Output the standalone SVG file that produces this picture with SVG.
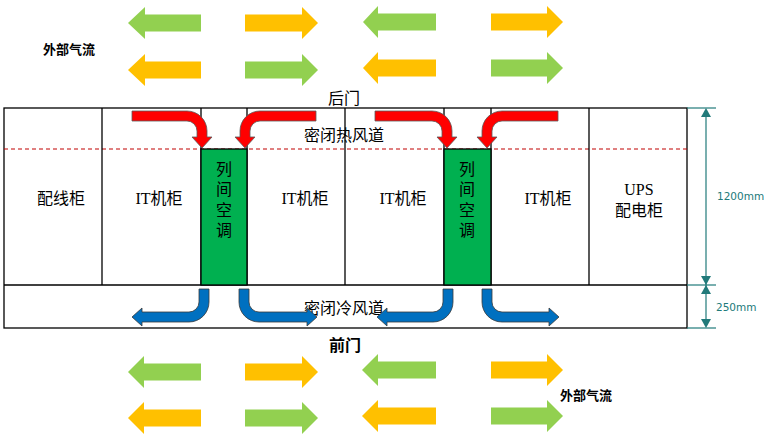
<svg xmlns="http://www.w3.org/2000/svg" width="767" height="436" viewBox="0 0 767 436">
<defs>
<style>
.box{fill:none;stroke:#000;stroke-width:1.3}
.ln{stroke:#000;stroke-width:1.3}
.dash{stroke:#C00000;stroke-width:1;stroke-dasharray:4 3}
.ac{fill:#00B050;stroke:#000;stroke-width:1.3}
.g{fill:#92D050}
.o{fill:#FFC000}
.red{fill:#FF0000;stroke:#5a5a5a;stroke-width:0.8}
.blue{fill:#0070C0;stroke:#3a3a3a;stroke-width:0.8}
.t{font-family:"Liberation Serif","Noto Sans CJK SC",serif;font-size:16px;fill:#000}
.tc{font-family:"Noto Sans CJK SC",sans-serif;font-size:16px;fill:#000}
.vt{font-family:"Noto Sans CJK SC",sans-serif;font-size:16px;fill:#000;writing-mode:vertical-rl;letter-spacing:4.3px}
.ext{font-family:"Noto Sans CJK SC",sans-serif;font-size:13px;font-weight:bold;fill:#000}
.dim{stroke:#217A7A;stroke-width:1.2;fill:none}
.dh{fill:#217A7A}
.dt{font-family:"DejaVu Sans","Liberation Sans",sans-serif;font-size:10.5px;fill:#217A7A}
</style>
</defs>

<g id="outside-airflow">
<polygon class="g" points="128,23 145,7 145,14.5 201,14.5 201,31.5 145,31.5 145,39"/>
<polygon class="o" points="318,23 302,7 302,14.5 245,14.5 245,31.5 302,31.5 302,39"/>
<polygon class="o" points="128,70 145,54 145,61.5 201,61.5 201,78.5 145,78.5 145,86"/>
<polygon class="g" points="318,70 302,54 302,61.5 245,61.5 245,78.5 302,78.5 302,86"/>
<polygon class="g" points="363,22 378,6 378,13.5 436,13.5 436,30.5 378,30.5 378,38"/>
<polygon class="o" points="563,22 547,6 547,13.5 491,13.5 491,30.5 547,30.5 547,38"/>
<polygon class="o" points="363,68 378,52 378,59.5 436,59.5 436,76.5 378,76.5 378,84"/>
<polygon class="g" points="563,68 547,52 547,59.5 491,59.5 491,76.5 547,76.5 547,84"/>

<polygon class="g" points="128,372 144,356 144,363.5 201,363.5 201,380.5 144,380.5 144,388"/>
<polygon class="o" points="318,372 302,356 302,363.5 245,363.5 245,380.5 302,380.5 302,388"/>
<polygon class="o" points="128,418 144,402 144,409.5 201,409.5 201,426.5 144,426.5 144,434"/>
<polygon class="g" points="318,418 302,402 302,409.5 245,409.5 245,426.5 302,426.5 302,434"/>
<polygon class="g" points="362,370 378,354 378,361.5 436,361.5 436,378.5 378,378.5 378,386"/>
<polygon class="o" points="563,370 547,354 547,361.5 491,361.5 491,378.5 547,378.5 547,386"/>
<polygon class="o" points="362,416 378,400 378,407.5 436,407.5 436,424.5 378,424.5 378,432"/>
<polygon class="g" points="563,416 547,400 547,407.5 491,407.5 491,424.5 547,424.5 547,432"/>
<text class="ext" x="43" y="54">外部气流</text>
<text class="ext" x="560" y="400">外部气流</text>
</g>

<g id="frame">
<rect class="box" x="4" y="108" width="683" height="220"/>
<line class="ln" x1="4" y1="285" x2="687" y2="285"/>
<line class="dash" x1="4" y1="149" x2="687" y2="149"/>
<line class="ln" x1="102" y1="108" x2="102" y2="285"/>
<line class="ln" x1="201" y1="108" x2="201" y2="285"/>
<line class="ln" x1="247" y1="108" x2="247" y2="285"/>
<line class="ln" x1="345" y1="108" x2="345" y2="285"/>
<line class="ln" x1="444" y1="108" x2="444" y2="285"/>
<line class="ln" x1="491" y1="108" x2="491" y2="285"/>
<line class="ln" x1="589" y1="108" x2="589" y2="285"/>
<text class="tc" x="344" y="104" text-anchor="middle">后门</text>
<text class="tc" x="345" y="351" text-anchor="middle" font-weight="bold">前门</text>
<text class="tc" x="304" y="141">密闭热风道</text>
<text class="tc" x="304" y="314">密闭冷风道</text>
</g>

<g id="cab-wiring"><text class="t" x="61" y="204" text-anchor="middle">配线柜</text></g>
<g id="cab-it1"><text class="t" x="159" y="204" text-anchor="middle">IT机柜</text></g>
<g id="ac1">
<rect class="ac" x="201" y="149" width="46" height="136"/>
<text class="vt" x="224" y="161">列间空调</text>
</g>
<g id="cab-it2"><text class="t" x="305" y="204" text-anchor="middle">IT机柜</text></g>
<g id="cab-it3"><text class="t" x="403" y="204" text-anchor="middle">IT机柜</text></g>
<g id="ac2">
<rect class="ac" x="444" y="149" width="47" height="136"/>
<text class="vt" x="467" y="161">列间空调</text>
</g>
<g id="cab-it4"><text class="t" x="548" y="204" text-anchor="middle">IT机柜</text></g>
<g id="cab-ups">
<text class="t" x="639" y="195" text-anchor="middle">UPS</text>
<text class="t" x="639" y="216" text-anchor="middle">配电柜</text>
</g>

<g id="connectors">
<path class="red" d="M132,111 H187 A20,20 0 0 1 207,131 V137 H212 L202,148 L192,137 H197 V131 A10,10 0 0 0 187,121 H132 Z"/>
<path class="red" d="M316,111 H260 A20,20 0 0 0 240,131 V137 H235 L245,148 L255,137 H250 V131 A10,10 0 0 1 260,121 H316 Z"/>
<path class="red" d="M375,111 H432 A20,20 0 0 1 452,131 V137 H457 L447,148 L437,137 H442 V131 A10,10 0 0 0 432,121 H375 Z"/>
<path class="red" d="M558,111 H502 A20,20 0 0 0 482,131 V137 H477 L487,148 L497,137 H492 V131 A10,10 0 0 1 502,121 H558 Z"/>

<path class="blue" d="M199,289 H209 V302 A20,20 0 0 1 189,322 H142 V326 L132,317 L142,308 V312 H189 A10,10 0 0 0 199,302 Z"/>
<path class="blue" d="M239,289 H249 V302 A10,10 0 0 0 259,312 H307 V308 L317,317 L307,326 V322 H259 A20,20 0 0 1 239,302 Z"/>
<path class="blue" d="M443,289 H453 V302 A20,20 0 0 1 433,322 H387 V326 L377,317 L387,308 V312 H433 A10,10 0 0 0 443,302 Z"/>
<path class="blue" d="M482,289 H492 V302 A10,10 0 0 0 502,312 H549 V308 L559,317 L549,326 V322 H502 A20,20 0 0 1 482,302 Z"/>
</g>

<g id="dimensions">
<line class="dim" x1="687" y1="108" x2="716" y2="108"/>
<line class="dim" x1="687" y1="285" x2="716" y2="285"/>
<line class="dim" x1="687" y1="328" x2="716" y2="328"/>
<line class="dim" x1="706" y1="110" x2="706" y2="326"/>
<polygon class="dh" points="706,108 701,117 711,117"/>
<polygon class="dh" points="706,285 701,276 711,276"/>
<polygon class="dh" points="706,285 701,294 711,294"/>
<polygon class="dh" points="706,328 701,319 711,319"/>
<text class="dt" x="717" y="200">1200mm</text>
<text class="dt" x="716" y="311">250mm</text>
</g>
</svg>
